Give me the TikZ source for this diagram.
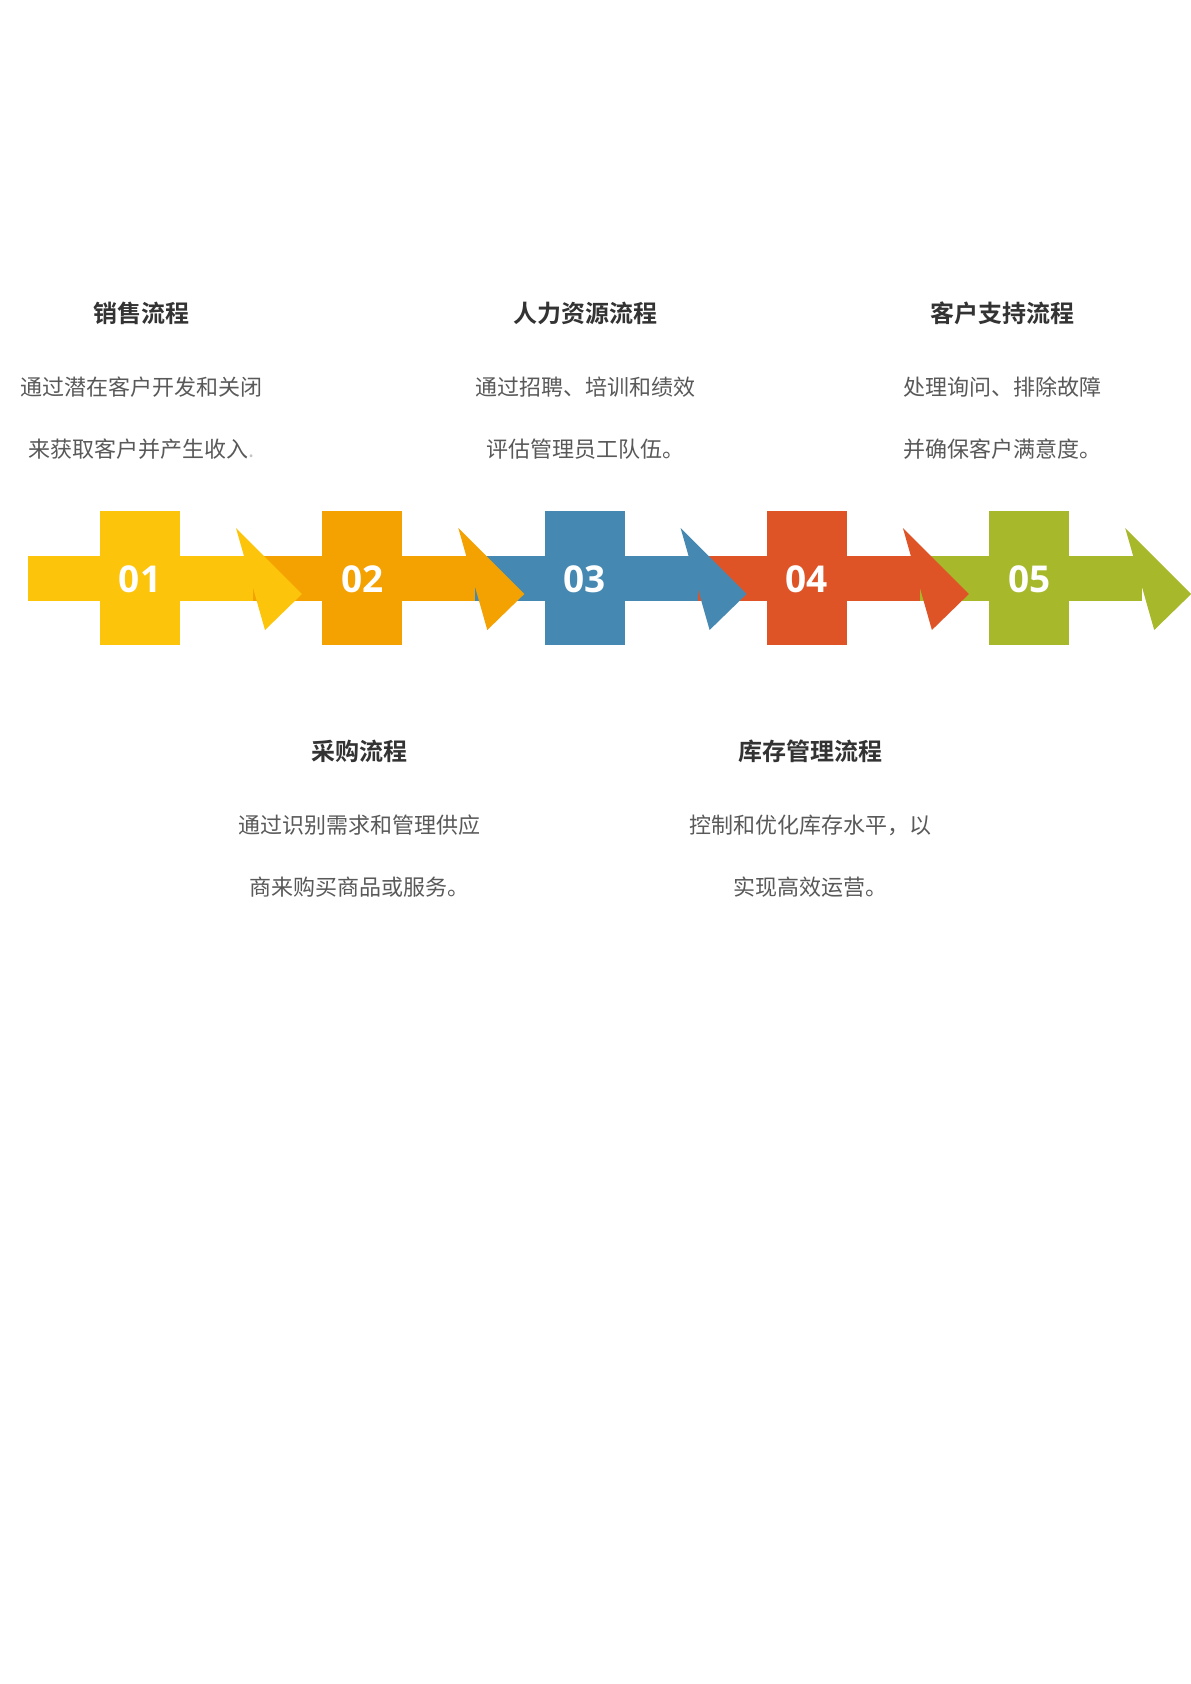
\documentclass[tikz,border=0pt]{standalone}
\usepackage{fontspec}
\newfontfamily\cjk{Noto Sans CJK SC}
\newfontfamily\cjkb{Noto Sans CJK SC Bold}
\newfontfamily\numf{Open Sans Bold}
\definecolor{cA}{HTML}{FCC40A}
\definecolor{cB}{HTML}{F4A102}
\definecolor{cC}{HTML}{4589B2}
\definecolor{cD}{HTML}{DF5427}
\definecolor{cE}{HTML}{A8B82B}
\definecolor{ttl}{HTML}{333333}
\definecolor{bdy}{HTML}{595959}
\begin{document}
\begin{tikzpicture}[x=1pt,y=-1pt,
  titlet/.style={font=\cjkb\fontsize{24}{28}\selectfont,text=ttl,inner sep=0pt,anchor=center},
  bodyt/.style={font=\cjk\fontsize{22}{26}\selectfont,text=bdy,inner sep=0pt,anchor=center},
  numt/.style={font=\numf\fontsize{37}{40}\selectfont,text=white,inner sep=0pt,anchor=center}]
\fill[white] (0,0) rectangle (1191,1684);
\useasboundingbox (0,0) rectangle (1191,1684);
% segments drawn from last to first
\foreach \c/\col/\n in {1029.2/cE/05, 806.9/cD/04, 584.6/cC/03, 362.3/cB/02, 140/cA/01}{
  \fill[\col] (\c-111.7,556) rectangle (\c+113,600.7);
  \fill[\col] (\c-40,511) rectangle (\c+40,645);
  \fill[\col] (\c+96,528) -- (\c+162,594) -- (\c+125,630) -- cycle;
  \node[numt] (n\n) at (\c,579.5) {\n};
}
% top texts
\node[titlet] (t1) at (141.8,313.6) {销售流程};
\node[bodyt] (a1) at (141.8,386.7) {通过潜在客户开发和关闭};
\node[bodyt] (b1) at (141.8,449) {来获取客户并产生收入{\color{bdy!35}.}};
\node[titlet] (t3) at (585,313.6) {人力资源流程};
\node[bodyt] (a3) at (585,386.7) {通过招聘、培训和绩效};
\node[bodyt] (b3) at (585,449) {评估管理员工队伍。};
\node[titlet] (t5) at (1002,313.6) {客户支持流程};
\node[bodyt] (a5) at (1002,386.7) {处理询问、排除故障};
\node[bodyt] (b5) at (1002,449) {并确保客户满意度。};
% bottom texts
\node[titlet] (t2) at (359.5,751.5) {采购流程};
\node[bodyt] (a2) at (359.5,825.5) {通过识别需求和管理供应};
\node[bodyt] (b2) at (359.5,887.5) {商来购买商品或服务。};
\node[titlet] (t4) at (810,751.5) {库存管理流程};
\node[bodyt] (a4) at (810,825.5) {控制和优化库存水平，以};
\node[bodyt] (b4) at (810,887.5) {实现高效运营。};
\end{tikzpicture}
\end{document}
